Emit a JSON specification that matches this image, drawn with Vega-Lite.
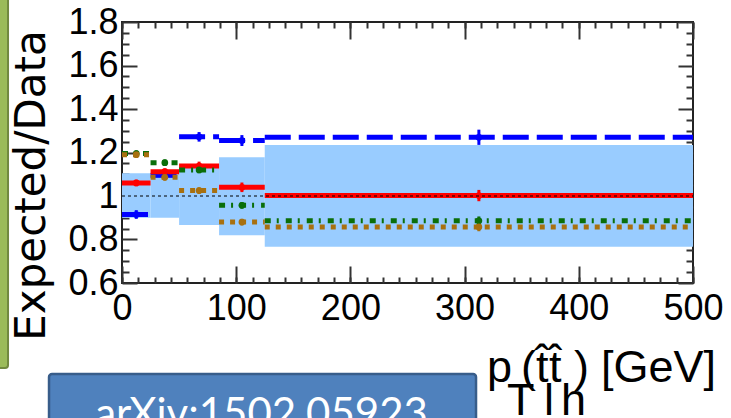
{
  "$schema": "https://vega.github.io/schema/vega-lite/v6.json",
  "width": 571,
  "height": 261,
  "autosize": "none",
  "padding": {"left": 122, "top": 22, "right": 38, "bottom": 135},
  "background": "white",
  "config": {
    "view": {"stroke": "#222", "strokeWidth": 2},
    "axis": {
      "grid": false, "domain": false,
      "labelFont": "Liberation Sans",
      "labelColor": "#000", "labelFontSize": 36,
      "tickColor": "#333", "tickWidth": 2,
      "labelFlush": false, "labelOverlap": false, "zindex": 1
    }
  },
  "datasets": {
    "ratios": [
      {"pred": "P1", "xlo": 0, "xhi": 25, "xc": 12.5, "ratio": 0.915, "lo": 0.895, "hi": 0.935},
      {"pred": "P1", "xlo": 25, "xhi": 50, "xc": 37.5, "ratio": 1.095, "lo": 1.075, "hi": 1.115},
      {"pred": "P1", "xlo": 50, "xhi": 85, "xc": 67.5, "ratio": 1.272, "lo": 1.25, "hi": 1.294},
      {"pred": "P1", "xlo": 85, "xhi": 125, "xc": 105, "ratio": 1.255, "lo": 1.23, "hi": 1.28},
      {"pred": "P1", "xlo": 125, "xhi": 500, "xc": 312.5, "ratio": 1.27, "lo": 1.235, "hi": 1.305},
      {"pred": "P2", "xlo": 0, "xhi": 25, "xc": 12.5, "ratio": 1.06, "lo": 1.045, "hi": 1.075},
      {"pred": "P2", "xlo": 25, "xhi": 50, "xc": 37.5, "ratio": 1.112, "lo": 1.097, "hi": 1.127},
      {"pred": "P2", "xlo": 50, "xhi": 85, "xc": 67.5, "ratio": 1.138, "lo": 1.118, "hi": 1.158},
      {"pred": "P2", "xlo": 85, "xhi": 125, "xc": 105, "ratio": 1.04, "lo": 1.018, "hi": 1.062},
      {"pred": "P2", "xlo": 125, "xhi": 500, "xc": 312.5, "ratio": 1.002, "lo": 0.976, "hi": 1.028},
      {"pred": "P3", "xlo": 0, "xhi": 25, "xc": 12.5, "ratio": 1.195, "lo": 1.18, "hi": 1.21},
      {"pred": "P3", "xlo": 25, "xhi": 50, "xc": 37.5, "ratio": 1.153, "lo": 1.138, "hi": 1.168},
      {"pred": "P3", "xlo": 50, "xhi": 85, "xc": 67.5, "ratio": 1.12, "lo": 1.105, "hi": 1.135},
      {"pred": "P3", "xlo": 85, "xhi": 125, "xc": 105, "ratio": 0.957, "lo": 0.942, "hi": 0.972},
      {"pred": "P3", "xlo": 125, "xhi": 500, "xc": 312.5, "ratio": 0.886, "lo": 0.866, "hi": 0.906},
      {"pred": "P4", "xlo": 0, "xhi": 25, "xc": 12.5, "ratio": 1.19, "lo": 1.178, "hi": 1.202},
      {"pred": "P4", "xlo": 25, "xhi": 50, "xc": 37.5, "ratio": 1.086, "lo": 1.071, "hi": 1.101},
      {"pred": "P4", "xlo": 50, "xhi": 85, "xc": 67.5, "ratio": 1.025, "lo": 1.01, "hi": 1.04},
      {"pred": "P4", "xlo": 85, "xhi": 125, "xc": 105, "ratio": 0.88, "lo": 0.865, "hi": 0.895},
      {"pred": "P4", "xlo": 125, "xhi": 500, "xc": 312.5, "ratio": 0.858, "lo": 0.838, "hi": 0.878}
    ],
    "band": [
      {"xlo": 0, "xhi": 25, "lo": 0.9, "hi": 1.105},
      {"xlo": 25, "xhi": 50, "lo": 0.9, "hi": 1.105},
      {"xlo": 50, "xhi": 85, "lo": 0.867, "hi": 1.133},
      {"xlo": 85, "xhi": 125, "lo": 0.819, "hi": 1.178},
      {"xlo": 125, "xhi": 500, "lo": 0.767, "hi": 1.234}
    ]
  },
  "resolve": {"axis": {"x": "independent", "y": "independent"}},
  "layer": [
    {
      "data": {"name": "band"},
      "mark": {"type": "rect", "color": "#99ccff"},
      "encoding": {
        "x": {"field": "xlo", "type": "quantitative", "scale": {"domain": [0, 500], "nice": false, "zero": false},
          "axis": {"orient": "bottom", "values": [0, 100, 200, 300, 400, 500], "ticks": false, "labelPadding": 8, "title": null}},
        "x2": {"field": "xhi"},
        "y": {"field": "lo", "type": "quantitative", "scale": {"domain": [0.6, 1.8], "nice": false, "zero": false},
          "axis": {"orient": "left", "values": [0.6, 0.8, 1, 1.2, 1.4, 1.6, 1.8], "ticks": false, "labelPadding": 4,
            "labelExpr": "datum.value == 1 ? '1' : format(datum.value, '.1f')",
            "title": "Expected/Data", "titleFont": "DejaVu Sans", "titleFontSize": 42, "titleFontWeight": "normal",
            "titleColor": "#000", "titleAngle": -90, "titleX": -78, "titleY": 163, "titleAlign": "center", "titleBaseline": "alphabetic"}},
        "y2": {"field": "hi"}
      }
    },
    {
      "data": {"name": "ratios"},
      "mark": {"type": "rule", "strokeWidth": 5},
      "encoding": {
        "x": {"field": "xlo", "type": "quantitative", "scale": {"domain": [0, 500], "nice": false, "zero": false},
          "axis": {"orient": "bottom", "values": [0, 100, 200, 300, 400, 500], "labels": false, "tickSize": -17, "title": null}},
        "x2": {"field": "xhi"},
        "y": {"field": "ratio", "type": "quantitative", "scale": {"domain": [0.6, 1.8], "nice": false, "zero": false},
          "axis": {"orient": "left", "values": [0.6, 0.8, 1, 1.2, 1.4, 1.6, 1.8], "labels": false, "tickSize": -15, "title": null}},
        "color": {"field": "pred", "type": "nominal", "legend": null,
          "scale": {"domain": ["P1", "P2", "P3", "P4"], "range": ["#0000ff", "#ff0000", "#0a6e0a", "#a8700f"]}},
        "strokeDash": {"field": "pred", "type": "nominal", "legend": null,
          "scale": {"domain": ["P1", "P2", "P3", "P4"], "range": [[26, 8], [1, 0], [6, 6, 2, 7], [5, 6]]}}
      }
    },
    {
      "data": {"name": "ratios"},
      "mark": {"type": "rule", "strokeWidth": 3},
      "encoding": {
        "x": {"field": "xc", "type": "quantitative", "scale": {"domain": [0, 500], "nice": false, "zero": false},
          "axis": {"orient": "bottom", "labels": false, "tickSize": -6, "title": null,
            "values": [0, 14.286, 28.571, 42.857, 57.143, 71.429, 85.714, 100, 114.286, 128.571, 142.857, 157.143, 171.429, 185.714, 200, 214.286, 228.571, 242.857, 257.143, 271.429, 285.714, 300, 314.286, 328.571, 342.857, 357.143, 371.429, 385.714, 400, 414.286, 428.571, 442.857, 457.143, 471.429, 485.714, 500]}},
        "y": {"field": "lo", "type": "quantitative", "scale": {"domain": [0.6, 1.8], "nice": false, "zero": false},
          "axis": {"orient": "left", "labels": false, "tickSize": -7, "title": null,
            "values": [0.65, 0.7, 0.75, 0.85, 0.9, 0.95, 1.05, 1.1, 1.15, 1.25, 1.3, 1.35, 1.45, 1.5, 1.55, 1.65, 1.7, 1.75]}},
        "y2": {"field": "hi"},
        "color": {"field": "pred", "type": "nominal", "legend": null,
          "scale": {"domain": ["P1", "P2", "P3", "P4"], "range": ["#0000ff", "#ff0000", "#0a6e0a", "#a8700f"]}}
      }
    },
    {
      "data": {"name": "ratios"},
      "mark": {"type": "point", "filled": true, "opacity": 1, "shape": "circle"},
      "encoding": {
        "x": {"field": "xc", "type": "quantitative", "scale": {"domain": [0, 500], "nice": false, "zero": false},
          "axis": {"orient": "top", "values": [0, 100, 200, 300, 400, 500], "labels": false, "tickSize": -17, "title": null}},
        "y": {"field": "ratio", "type": "quantitative", "scale": {"domain": [0.6, 1.8], "nice": false, "zero": false},
          "axis": {"orient": "right", "values": [0.6, 0.8, 1, 1.2, 1.4, 1.6, 1.8], "labels": false, "tickSize": -15, "title": null}},
        "size": {"field": "pred", "type": "nominal", "legend": null,
          "scale": {"domain": ["P1", "P2", "P3", "P4"], "range": [45, 45, 60, 60]}},
        "color": {"field": "pred", "type": "nominal", "legend": null,
          "scale": {"domain": ["P1", "P2", "P3", "P4"], "range": ["#0000ff", "#ff0000", "#0a6e0a", "#a8700f"]}}
      }
    },
    {
      "data": {"values": [{}]},
      "mark": {"type": "rule", "color": "#000", "strokeWidth": 1, "strokeDash": [3, 3]},
      "encoding": {
        "x": {"datum": 0, "type": "quantitative", "scale": {"domain": [0, 500], "nice": false, "zero": false},
          "axis": {"orient": "top", "labels": false, "tickSize": -6, "title": null,
            "values": [0, 14.286, 28.571, 42.857, 57.143, 71.429, 85.714, 100, 114.286, 128.571, 142.857, 157.143, 171.429, 185.714, 200, 214.286, 228.571, 242.857, 257.143, 271.429, 285.714, 300, 314.286, 328.571, 342.857, 357.143, 371.429, 385.714, 400, 414.286, 428.571, 442.857, 457.143, 471.429, 485.714, 500]}},
        "x2": {"datum": 500},
        "y": {"datum": 1, "type": "quantitative", "scale": {"domain": [0.6, 1.8], "nice": false, "zero": false},
          "axis": {"orient": "right", "labels": false, "tickSize": -7, "title": null,
            "values": [0.65, 0.7, 0.75, 0.85, 0.9, 0.95, 1.05, 1.1, 1.15, 1.25, 1.3, 1.35, 1.45, 1.5, 1.55, 1.65, 1.7, 1.75]}}
      }
    },
    {
      "data": {"values": [{}]},
      "mark": {"type": "rect", "color": "#9bbb59", "stroke": "#71893f", "strokeWidth": 2, "cornerRadius": 3},
      "encoding": {
        "x": {"datum": -108.6, "type": "quantitative", "scale": {"domain": [0, 500], "nice": false, "zero": false}, "axis": null},
        "x2": {"datum": -99.8},
        "y": {"datum": 1.95, "type": "quantitative", "scale": {"domain": [0.6, 1.8], "nice": false, "zero": false}, "axis": null},
        "y2": {"datum": 0.209}
      }
    },
    {
      "data": {"values": [{}]},
      "mark": {"type": "rect", "color": "#4f81bd", "stroke": "#385d8a", "strokeWidth": 2.5, "cornerRadius": 3},
      "encoding": {
        "x": {"datum": -63.9, "type": "quantitative", "scale": {"domain": [0, 500], "nice": false, "zero": false}, "axis": null},
        "x2": {"datum": 310},
        "y": {"datum": 0.1816, "type": "quantitative", "scale": {"domain": [0.6, 1.8], "nice": false, "zero": false}, "axis": null},
        "y2": {"datum": -0.2}
      }
    },
    {
      "data": {"values": [{}]},
      "mark": {"type": "text", "text": "arXiv:1502.05923", "font": "Lato", "fontSize": 42, "color": "#ffffff", "align": "center", "baseline": "alphabetic"},
      "encoding": {
        "x": {"datum": 122.2, "type": "quantitative", "scale": {"domain": [0, 500], "nice": false, "zero": false}, "axis": null},
        "y": {"datum": -0.0667, "type": "quantitative", "scale": {"domain": [0.6, 1.8], "nice": false, "zero": false}, "axis": null}
      }
    },
    {
      "data": {"values": [
        {"t": "p", "px": 319.6, "py": 0.1448, "s": "big"},
        {"t": "T", "px": 337.1, "py": -0.005, "s": "small"},
        {"t": "(t\u0302", "px": 349.4, "py": 0.1448, "s": "big"},
        {"t": "l", "px": 369.5, "py": -0.005, "s": "small"},
        {"t": "t\u0302", "px": 373.9, "py": 0.1448, "s": "big"},
        {"t": "h", "px": 384.4, "py": -0.005, "s": "small"},
        {"t": ")", "px": 395.8, "py": 0.1448, "s": "big"},
        {"t": "[GeV]", "px": 419.4, "py": 0.1448, "s": "big"}
      ]},
      "mark": {"type": "text", "font": "Liberation Sans", "color": "#000", "align": "left", "baseline": "alphabetic"},
      "encoding": {
        "x": {"field": "px", "type": "quantitative", "scale": {"domain": [0, 500], "nice": false, "zero": false}, "axis": null},
        "y": {"field": "py", "type": "quantitative", "scale": {"domain": [0.6, 1.8], "nice": false, "zero": false}, "axis": null},
        "text": {"field": "t"},
        "size": {"field": "s", "type": "nominal", "legend": null, "scale": {"domain": ["big", "small"], "range": [36, 24]}}
      }
    }
  ]
}
